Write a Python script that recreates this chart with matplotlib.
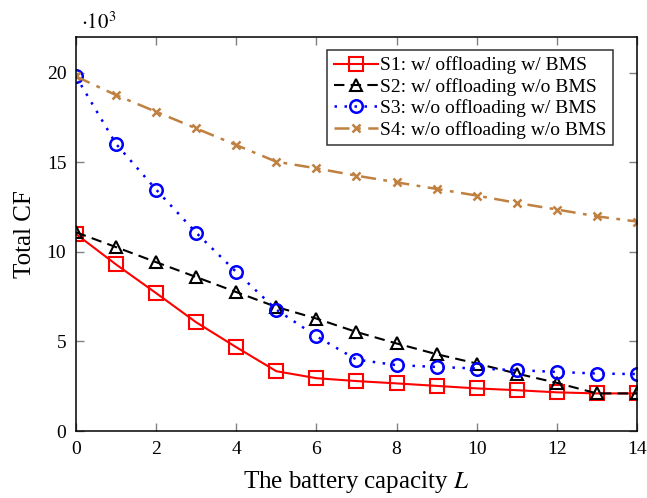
import matplotlib.pyplot as plt

plt.rcParams['font.family'] = ['Liberation Serif', 'DejaVu Serif']
plt.rcParams['mathtext.fontset'] = 'stix'

#---datos-------------------------------------------------------------
L = list(range(15))
s1 = [11.0, 9.3, 7.7, 6.07, 4.68, 3.34, 2.95, 2.79, 2.66, 2.52, 2.38, 2.28, 2.16, 2.1, 2.1]
s2 = [11.1, 10.27, 9.43, 8.6, 7.76, 6.93, 6.28, 5.53, 4.89, 4.29, 3.77, 3.21, 2.69, 2.1, 2.1]
s3 = [19.8, 16.03, 13.48, 11.07, 8.88, 6.78, 5.29, 3.99, 3.68, 3.58, 3.49, 3.4, 3.3, 3.21, 3.18]
s4 = [19.8, 18.76, 17.83, 16.9, 15.97, 15.04, 14.67, 14.26, 13.89, 13.52, 13.15, 12.74, 12.37, 11.99, 11.7]
labels = ['S1: w/ offloading w/ BMS', 'S2: w/ offloading w/o BMS',
          'S3: w/o offloading w/ BMS', 'S4: w/o offloading w/o BMS']

#---figura------------------------------------------------------------
fig = plt.figure(figsize=(6.47, 4.98), dpi=100)
ax = fig.add_axes([0.1175, 0.1345, 0.867, 0.791])

ax.plot(L, s1, color='red', linestyle='-', linewidth=1.5, marker='s', markersize=10,
        markerfacecolor='none', markeredgewidth=1.5, label=labels[0])
ax.plot(L, s2, color='black', linestyle=(0, (5, 3)), linewidth=1.5, marker='^', markersize=8,
        markerfacecolor='none', markeredgewidth=1.5, label=labels[1])
ax.plot(L, s3, color='blue', linestyle=(0, (1, 3)), linewidth=1.8, marker='o', markersize=9,
        markerfacecolor='none', markeredgewidth=1.8, label=labels[2])
ax.plot(L, s4, color='#bf8040', linestyle=(0, (6, 3, 1.5, 3)), linewidth=1.8, marker='x', markersize=6,
        markeredgewidth=1.8, label=labels[3])

ax.set_xlim(0, 14)
ax.set_ylim(0, 22)
ax.set_xticks(range(0, 15, 2))
ax.set_yticks([0, 5, 10, 15, 20])
ax.tick_params(direction='in', length=6, width=1, color='gray', top=True, right=True,
               labelsize=14, pad=7)
for sp in ax.spines.values():
    sp.set_linewidth(1.1)

ax.set_xlabel('The battery capacity $L$', fontsize=18, labelpad=8)
ax.set_ylabel('Total CF', fontsize=18, labelpad=8)
ax.text(0.008, 1.022, r'$\cdot 10^3$', transform=ax.transAxes, fontsize=15, ha='left', va='baseline')

leg = ax.legend(loc='upper right', bbox_to_anchor=(0.958, 0.968), fontsize=14, frameon=True,
                fancybox=False, edgecolor='black', handlelength=2.3, handletextpad=0.1,
                borderpad=0.35, labelspacing=0.18, borderaxespad=0)
leg.get_frame().set_linewidth(1.1)

fig.savefig('out.png', dpi=100)
